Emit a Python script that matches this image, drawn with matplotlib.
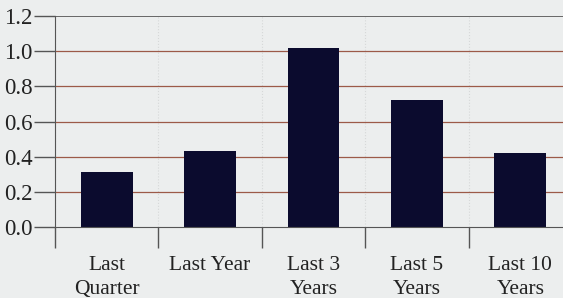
import numpy as np
import matplotlib.pyplot as plt

categories = ['Last\nQuarter', 'Last Year', 'Last 3\nYears', 'Last 5\nYears', 'Last 10\nYears']
values = [0.31, 0.43, 1.02, 0.72, 0.42]
yticks = [0.0, 0.2, 0.4, 0.6, 0.8, 1.0, 1.2]

plt.rcParams['font.family'] = ['Liberation Serif', 'DejaVu Serif']

fig = plt.figure(figsize=(5.63, 2.98), dpi=100)
fig.patch.set_facecolor('#eceeee')
# axes runs past the right edge, like the cropped scan
ax = fig.add_axes([55 / 563, 71 / 298, 517 / 563, 211 / 298])
ax.set_facecolor('#eceeee')

x = np.arange(len(categories))

# grid lines behind the bars
for v in yticks[1:-1]:
    ax.axhline(v, color='#9c5a48', lw=0.9, zorder=1)
ax.axhline(yticks[-1], color='#505050', lw=1.2, zorder=1)
for b in np.arange(len(categories) + 1) - 0.5:
    ax.axvline(b, color='#d6d8d8', lw=0.8, ls=':', zorder=0.5)

ax.bar(x, values, width=0.5, color='#0b0b2e', zorder=2)

ax.set_xlim(-0.5, len(categories) - 0.5)
ax.set_ylim(0, 1.2)
ax.set_yticks(yticks)
ax.set_yticklabels(['%.1f' % v for v in yticks], fontsize=16.5, color='#222222')
ax.tick_params(axis='y', length=15, width=1.0, color='#555555', pad=1)

ax.set_xticks(np.arange(len(categories) + 1) - 0.5)
ax.set_xticklabels([])
ax.tick_params(axis='x', which='major', length=15, width=1.0, color='#555555')
ax.set_xticks(x, minor=True)
ax.set_xticklabels(categories, minor=True, fontsize=15.5, color='#222222', linespacing=1.35)
ax.tick_params(axis='x', which='minor', length=0, pad=21)

for s in ['top', 'right']:
    ax.spines[s].set_visible(False)
ax.spines['left'].set_color('#555555')
ax.spines['bottom'].set_color('#555555')

plt.savefig('out.png', dpi=100, facecolor=fig.get_facecolor())
